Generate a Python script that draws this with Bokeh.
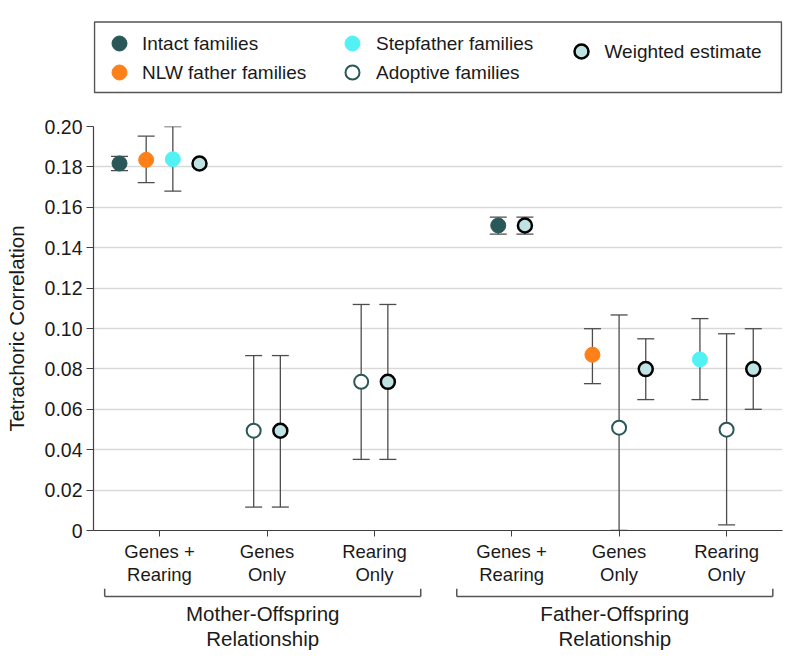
from bokeh.plotting import figure
from bokeh.layouts import column
from bokeh.models import ColumnDataSource, FixedTicker, Range1d
from bokeh.core.properties import value
from bokeh.embed import file_html
from bokeh.resources import INLINE

# ---------------- data ----------------
groups = ["Mother-Offspring\nRelationship", "Father-Offspring\nRelationship"]
categories = ["Genes +\nRearing", "Genes\nOnly", "Rearing\nOnly"]
series_names = ["Intact families", "NLW father families", "Stepfather families",
                "Adoptive families", "Weighted estimate"]

# cells: Mother G+R, Mother Genes, Mother Rearing, Father G+R, Father Genes, Father Rearing
intact_est = [0.1817, None, None, 0.151, None, None]
intact_lo = [0.1782, None, None, 0.1467, None, None]
intact_hi = [0.1852, None, None, 0.1551, None, None]

nlw_est = [0.1835, None, None, None, 0.087, None]
nlw_lo = [0.1722, None, None, None, 0.0727, None]
nlw_hi = [0.1952, None, None, None, 0.0999, None]

step_est = [0.1838, None, None, None, None, 0.0847]
step_lo = [0.168, None, None, None, None, 0.0648]
step_hi = [0.200, None, None, None, None, 0.1049]

adopt_est = [None, 0.0494, 0.0736, None, 0.0509, 0.0499]
adopt_lo = [None, 0.0116, 0.0352, None, 0.0, 0.0028]
adopt_hi = [None, 0.0866, 0.1119, None, 0.1067, 0.0974]

wtd_est = [0.1817, 0.0494, 0.0736, 0.151, 0.0799, 0.0799]
wtd_lo = [None, 0.0116, 0.0352, 0.1467, 0.0648, 0.060]
wtd_hi = [None, 0.0866, 0.1119, 0.1551, 0.0949, 0.0999]

y_ticks = [0, 0.02, 0.04, 0.06, 0.08, 0.10, 0.12, 0.14, 0.16, 0.18, 0.20]
y_tick_labels = ["0", "0.02", "0.04", "0.06", "0.08", "0.10", "0.12", "0.14",
                 "0.16", "0.18", "0.20"]

# ---------------- styles ----------------
FONT = "Liberation Sans"
TEXT = "#1a1a1a"
TEAL = "#2a5859"
styles = [
    dict(fill_color=TEAL, line_color=TEAL, line_width=1, size=15),
    dict(fill_color="#fd8118", line_color="#fd8118", line_width=1, size=15),
    dict(fill_color="#52f2f4", line_color="#52f2f4", line_width=1, size=15),
    dict(fill_color="white", line_color=TEAL, line_width=2, size=14),
    dict(fill_color="#bfe3e3", line_color="black", line_width=2.5, size=14),
]
ERR_COLOR = "#4d4d4d"
AX_COLOR = "#404040"

est_all = [intact_est, nlw_est, step_est, adopt_est, wtd_est]
lo_all = [intact_lo, nlw_lo, step_lo, adopt_lo, wtd_lo]
hi_all = [intact_hi, nlw_hi, step_hi, adopt_hi, wtd_hi]

GAP = 0.275
SLOT = 0.248
ncat = len(categories)
cell_x = [g * (ncat + GAP) + i + 1 for g in range(len(groups)) for i in range(ncat)]

xpos = [[None] * len(cell_x) for _ in est_all]
for c in range(len(cell_x)):
    present = [s for s in range(len(est_all)) if est_all[s][c] is not None]
    n = len(present)
    for k, s in enumerate(present):
        xpos[s][c] = cell_x[c] + (k - (n - 1) / 2) * SLOT

x_range = Range1d(0.386, 6.795)
LEFT = 93
FW = 689
RIGHT = 12
TOP_H = 110


def bare(fig):
    fig.outline_line_color = None
    fig.background_fill_color = "white"
    fig.border_fill_color = "white"
    fig.xgrid.visible = False
    fig.ygrid.visible = False


# ---------------- legend panel (key drawn in pixel-like coordinates) ----------------
top = figure(frame_width=FW, frame_height=TOP_H,
             x_range=Range1d(LEFT, LEFT + FW), y_range=Range1d(TOP_H, 0),
             output_backend="svg", toolbar_location=None,
             min_border_left=LEFT, min_border_right=RIGHT, min_border_top=0, min_border_bottom=0,
             x_axis_location=None, y_axis_location=None)
bare(top)
# legend layout: (marker x, text x, row y) for each series
key_marker_x = [119, 119, 352, 352, 581]
key_text_x = [141.5, 141.5, 375.5, 375.5, 604]
key_row_y = [43, 72, 43, 72, 51]
top.quad(left=[LEFT + 1], right=[LEFT + FW - 1], top=[21.5], bottom=[92],
         fill_color=None, line_color="#555555", line_width=1.5)
for s, name in enumerate(series_names):
    top.scatter(x=[key_marker_x[s]], y=[key_row_y[s]], marker="circle", **styles[s])
top.text(x=key_text_x, y=key_row_y, text=series_names, text_align="left",
         text_baseline="middle", text_font=value(FONT), text_font_size="19px",
         text_color=TEXT)

# ---------------- main plot ----------------
p = figure(frame_width=FW, frame_height=404,
           x_range=x_range, y_range=Range1d(0, 0.20),
           output_backend="svg", toolbar_location=None,
           min_border_left=LEFT, min_border_right=RIGHT, min_border_top=16,
           min_border_bottom=58)
p.outline_line_color = None
p.background_fill_color = "white"
p.border_fill_color = "white"

eb = dict(x=[], lo=[], hi=[])
for s in range(len(est_all)):
    for c in range(len(cell_x)):
        if est_all[s][c] is not None and lo_all[s][c] is not None:
            eb["x"].append(xpos[s][c])
            eb["lo"].append(lo_all[s][c])
            eb["hi"].append(hi_all[s][c])
ebs = ColumnDataSource(eb)
p.segment(x0="x", y0="lo", x1="x", y1="hi", source=ebs, line_color=ERR_COLOR, line_width=1.3)
p.scatter("x", "lo", source=ebs, marker="dash", size=17, line_color=ERR_COLOR, line_width=1.3)
p.scatter("x", "hi", source=ebs, marker="dash", size=17, line_color=ERR_COLOR, line_width=1.3)

for s in range(len(est_all)):
    xs = [xpos[s][c] for c in range(len(cell_x)) if est_all[s][c] is not None]
    ys = [est_all[s][c] for c in range(len(cell_x)) if est_all[s][c] is not None]
    p.scatter(xs, ys, marker="circle", **styles[s])

p.xgrid.visible = False
p.ygrid.grid_line_color = "#d9d9d9"
p.ygrid.grid_line_width = 1.5

p.yaxis.ticker = FixedTicker(ticks=y_ticks)
p.yaxis.major_label_overrides = {t: l for t, l in zip(y_ticks, y_tick_labels)}
p.yaxis.axis_label = "Tetrachoric Correlation"
p.yaxis.axis_label_text_font = FONT
p.yaxis.axis_label_text_font_size = "20.5px"
p.yaxis.axis_label_text_font_style = "normal"
p.yaxis.axis_label_text_color = TEXT
p.yaxis.axis_label_standoff = 14
p.yaxis.major_label_text_font = FONT
p.yaxis.major_label_text_font_size = "19.5px"
p.yaxis.major_label_text_color = TEXT
p.yaxis.major_label_standoff = 4
p.yaxis.major_tick_out = 7
p.yaxis.major_tick_in = 0
p.yaxis.minor_tick_line_color = None
p.yaxis.axis_line_color = AX_COLOR
p.yaxis.major_tick_line_color = AX_COLOR
p.yaxis.axis_line_width = 1.2

p.xaxis.ticker = FixedTicker(ticks=cell_x)
p.xaxis.major_label_overrides = {x: categories[i % ncat] for i, x in enumerate(cell_x)}
p.xaxis.major_label_text_font = FONT
p.xaxis.major_label_text_font_size = "18.5px"
p.xaxis.major_label_text_color = TEXT
p.xaxis.major_label_text_line_height = 1.1
p.xaxis.major_label_standoff = 4
p.xaxis.major_tick_out = 6
p.xaxis.major_tick_in = 0
p.xaxis.minor_tick_line_color = None
p.xaxis.axis_line_color = AX_COLOR
p.xaxis.major_tick_line_color = AX_COLOR
p.xaxis.axis_line_width = 1.2

# ---------------- group brackets and titles ----------------
bot = figure(frame_width=FW, frame_height=75, x_range=x_range, y_range=Range1d(75, 0),
             output_backend="svg", toolbar_location=None,
             min_border_left=LEFT, min_border_right=RIGHT, min_border_top=0, min_border_bottom=0,
             x_axis_location=None, y_axis_location=None)
bare(bot)
BR_TOP, BR_BOT = 0, 8
for g, name in enumerate(groups):
    first = cell_x[g * ncat]
    last = cell_x[g * ncat + ncat - 1]
    left = first - 0.51
    right = last + 0.43
    bot.segment(x0=[left, right, left], y0=[BR_TOP, BR_TOP, BR_BOT],
                x1=[left, right, right], y1=[BR_BOT, BR_BOT, BR_BOT],
                line_color="#555555", line_width=1.5)
    mid = (left + right) / 2
    lines = name.split("\n")
    bot.text(x=[mid] * len(lines), y=[25 + 24.7 * k for k in range(len(lines))], text=lines,
             text_align="center", text_baseline="middle",
             text_font=value(FONT), text_font_size="20.5px", text_color=TEXT)

layout = column(top, p, bot, spacing=0)
open("out.html", "w").write(file_html(layout, INLINE))
